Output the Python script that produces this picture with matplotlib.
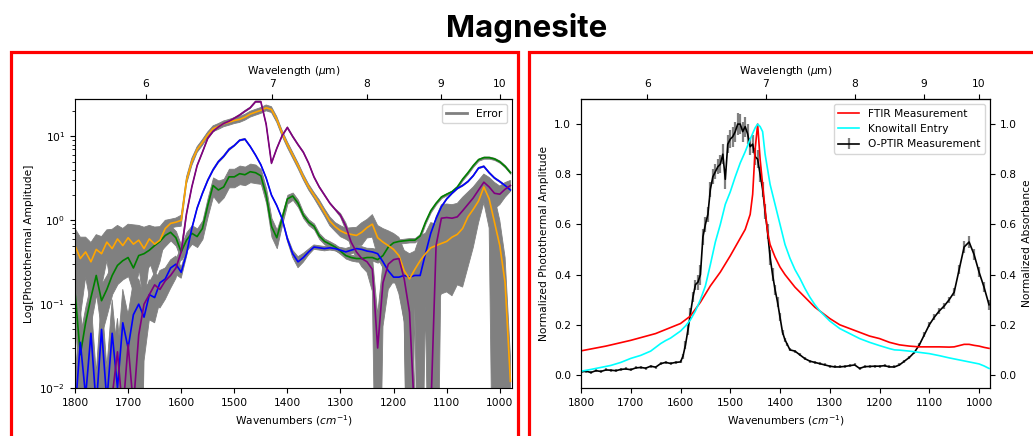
import numpy as np
import matplotlib
matplotlib.use('Agg')
import matplotlib.pyplot as plt
from matplotlib.patches import Rectangle
from matplotlib.lines import Line2D

plt.rcParams['font.family'] = ['DejaVu Sans']
plt.rcParams['font.size'] = 7.7

title = 'Magnesite'

# ---------------- left panel data (log amplitude) ----------------
wn_left = np.arange(1800, 975, -10)  # 1800 ... 980

orange_amp = [0.50, 0.35, 0.42, 0.32, 0.45, 0.40, 0.55, 0.46, 0.60, 0.50,
              0.62, 0.52, 0.58, 0.46, 0.60, 0.52, 0.58, 0.80, 0.92, 0.95,
              1.00, 3.00, 5.00, 7.00, 8.50, 10.5, 12.4, 13.2, 14.2, 14.8,
              15.5, 16.0, 17.0, 18.5, 19.5, 20.5, 22.0, 21.0, 16.0, 11.0,
              8.00, 6.00, 4.50, 3.30, 2.50, 2.00, 1.60, 1.25, 0.98, 0.84,
              0.75, 0.70, 0.68, 0.66, 0.72, 0.82, 0.90, 0.62, 0.55, 0.50,
              0.45, 0.38, 0.25, 0.20, 0.26, 0.33, 0.40, 0.47, 0.50, 0.53,
              0.56, 0.63, 0.68, 0.80, 1.10, 1.35, 1.70, 2.50, 1.80, 0.95,
              0.50, 0.18, 0.012]
orange_err = [0.6, 0.8, 0.5, 0.7, 0.5, 0.6, 0.4, 0.7, 0.45, 0.6,
              0.45, 0.7, 0.5, 0.8, 0.45, 0.6, 0.45, 0.25, 0.12, 0.12,
              0.15, 0.1, 0.1, 0.08, 0.08, 0.08, 0.08, 0.08, 0.08, 0.08,
              0.08, 0.08, 0.08, 0.08, 0.08, 0.08, 0.08, 0.08, 0.08, 0.08,
              0.08, 0.08, 0.08, 0.08, 0.08, 0.08, 0.1, 0.1, 0.12, 0.12,
              0.15, 0.15, 0.2, 0.25, 0.3, 0.25, 0.3, 0.4, 0.45, 0.5,
              0.55, 0.65, 0.75, 1.0, 0.65, 1.0, 0.75, 1.0, 0.8, 0.75,
              0.75, 0.8, 0.75, 0.8, 0.75, 0.65, 0.45, 0.35, 0.55, 1.0,
              1.0, 1.0, 1.0]

purple_amp = [0.004, 0.003, 0.005, 0.003, 0.004, 0.003, 0.006, 0.008, 0.027, 0.005,
              0.033, 0.006, 0.043, 0.10, 0.13, 0.17, 0.15, 0.19, 0.22, 0.27,
              0.42, 1.20, 2.50, 4.50, 6.50, 9.50, 11.5, 13.0, 14.3, 15.2,
              16.5, 18.0, 20.0, 22.0, 26.0, 26.0, 14.0, 4.80, 7.20, 10.2,
              12.8, 10.0, 8.00, 6.50, 4.80, 3.30, 2.50, 2.00, 1.60, 1.35,
              1.15, 0.85, 0.55, 0.42, 0.35, 0.32, 0.26, 0.03, 0.18, 0.30,
              0.34, 0.35, 0.20, 0.08, 0.004, 0.003, 0.003, 0.005, 0.50, 1.06,
              1.08, 1.06, 1.10, 1.30, 1.55, 1.85, 2.30, 2.85, 2.50, 2.10,
              2.05, 2.35, 2.60]
purple_err = [1.5, 1.5, 1.5, 1.5, 1.5, 1.5, 1.5, 1.5, 1.5, 1.5,
              1.5, 1.5, 1.5, 0.5, 0.4, 0.4, 0.4, 0.4, 0.3, 0.25,
              0.15, 0.04, 0.02, 0.02, 0.02, 0.02, 0.02, 0.02, 0.02, 0.02,
              0.02, 0.02, 0.02, 0.02, 0.02, 0.02, 0.02, 0.02, 0.02, 0.02,
              0.02, 0.02, 0.02, 0.02, 0.02, 0.02, 0.02, 0.02, 0.02, 0.02,
              0.05, 0.1, 0.15, 0.15, 0.2, 0.25, 0.45, 1.5, 0.7, 0.5,
              0.45, 0.5, 0.7, 1.5, 1.5, 1.5, 1.5, 1.5, 1.2, 0.45,
              0.45, 0.45, 0.45, 0.45, 0.4, 0.35, 0.3, 0.25, 0.3, 0.35,
              0.25, 0.2, 0.15]

blue_amp = [0.005, 0.035, 0.008, 0.045, 0.006, 0.05, 0.007, 0.045, 0.01, 0.06,
            0.03, 0.075, 0.10, 0.07, 0.13, 0.12, 0.18, 0.20, 0.27, 0.30,
            0.24, 0.40, 0.80, 1.40, 2.10, 3.00, 4.00, 5.00, 5.80, 7.00,
            7.80, 9.00, 9.30, 7.60, 6.00, 4.60, 3.20, 2.00, 1.50, 1.05,
            0.60, 0.40, 0.32, 0.36, 0.42, 0.48, 0.47, 0.46, 0.47, 0.46,
            0.44, 0.42, 0.44, 0.46, 0.45, 0.43, 0.42, 0.40, 0.32, 0.25,
            0.21, 0.21, 0.22, 0.21, 0.22, 0.22, 0.40, 0.70, 1.05, 1.45,
            1.80, 2.10, 2.40, 2.60, 2.90, 3.40, 4.20, 4.40, 3.70, 3.20,
            2.90, 2.60, 2.30]
blue_err = [1.5, 1.5, 1.5, 1.5, 1.5, 1.5, 1.5, 1.5, 1.5, 1.5,
            1.5, 1.5, 1.0, 0.7, 0.5, 0.5, 0.4, 0.35, 0.25, 0.25,
            0.15, 0.08, 0.03, 0.03, 0.03, 0.03, 0.03, 0.03, 0.03, 0.03,
            0.02, 0.02, 0.02, 0.02, 0.02, 0.02, 0.02, 0.02, 0.02, 0.02,
            0.06, 0.1, 0.15, 0.12, 0.08, 0.06, 0.06, 0.06, 0.06, 0.06,
            0.08, 0.1, 0.1, 0.08, 0.08, 0.08, 0.1, 0.12, 0.15, 0.15,
            0.15, 0.15, 0.15, 0.15, 0.15, 0.15, 0.08, 0.03, 0.02, 0.02,
            0.02, 0.02, 0.02, 0.02, 0.02, 0.02, 0.02, 0.02, 0.02, 0.02,
            0.02, 0.02, 0.02]

green_amp = [0.14, 0.025, 0.06, 0.12, 0.22, 0.11, 0.15, 0.22, 0.29, 0.33,
             0.36, 0.27, 0.38, 0.40, 0.44, 0.50, 0.56, 0.66, 0.72, 0.62,
             0.42, 0.58, 0.70, 0.64, 0.80, 1.50, 2.60, 2.30, 2.50, 3.30,
             3.30, 3.60, 3.50, 3.80, 3.70, 3.40, 2.00, 0.85, 0.62, 1.05,
             1.80, 1.95, 1.60, 1.15, 0.95, 0.85, 0.65, 0.56, 0.52, 0.48,
             0.43, 0.38, 0.36, 0.35, 0.35, 0.36, 0.36, 0.34, 0.38, 0.48,
             0.54, 0.56, 0.57, 0.58, 0.58, 0.65, 0.95, 1.30, 1.60, 1.90,
             2.05, 2.20, 2.50, 3.10, 3.70, 4.50, 5.30, 5.60, 5.60, 5.40,
             5.00, 4.40, 3.70]
green_err = [0.5, 0.8, 0.6, 0.5, 0.4, 0.6, 0.5, 0.4, 0.4, 0.4,
             0.4, 0.5, 0.35, 0.4, 0.35, 0.35, 0.25, 0.25, 0.2, 0.2,
             0.2, 0.25, 0.25, 0.25, 0.25, 0.25, 0.25, 0.3, 0.25, 0.25,
             0.25, 0.25, 0.25, 0.25, 0.25, 0.2, 0.2, 0.25, 0.25, 0.15,
             0.12, 0.1, 0.1, 0.08, 0.08, 0.08, 0.08, 0.08, 0.08, 0.08,
             0.08, 0.08, 0.08, 0.08, 0.08, 0.08, 0.08, 0.08, 0.08, 0.08,
             0.06, 0.06, 0.06, 0.06, 0.06, 0.06, 0.04, 0.04, 0.03, 0.03,
             0.03, 0.03, 0.03, 0.03, 0.03, 0.03, 0.03, 0.03, 0.03, 0.03,
             0.03, 0.03, 0.03]

# ---------------- right panel data (normalized) ----------------
ftir_wn = [1800, 1750, 1700, 1650, 1600, 1580, 1560, 1540, 1520, 1500, 1480, 1470,
           1460, 1455, 1450, 1445, 1440, 1435, 1430, 1425, 1420, 1410, 1400, 1390,
           1380, 1370, 1360, 1350, 1340, 1330, 1320, 1300, 1280, 1260, 1240, 1220,
           1200, 1180, 1160, 1140, 1120, 1100, 1080, 1060, 1050, 1040, 1030, 1020,
           1010, 1000, 990, 980]
ftir_abs = [0.096, 0.115, 0.138, 0.165, 0.205, 0.235, 0.29, 0.355, 0.41, 0.475, 0.545, 0.58,
            0.64, 0.72, 0.90, 1.00, 0.86, 0.76, 0.66, 0.57, 0.52, 0.47, 0.43, 0.40,
            0.375, 0.35, 0.33, 0.31, 0.29, 0.27, 0.255, 0.225, 0.20, 0.185, 0.17, 0.155,
            0.145, 0.13, 0.12, 0.115, 0.112, 0.112, 0.112, 0.111, 0.112, 0.117, 0.122, 0.122,
            0.118, 0.115, 0.11, 0.106]

kia_wn = [1800, 1780, 1760, 1740, 1720, 1700, 1680, 1660, 1640, 1630, 1620, 1600,
          1590, 1580, 1570, 1560, 1550, 1540, 1530, 1520, 1510, 1500, 1490, 1480,
          1470, 1460, 1450, 1445, 1440, 1435, 1430, 1425, 1420, 1410, 1400, 1390,
          1380, 1370, 1360, 1350, 1340, 1330, 1320, 1310, 1300, 1280, 1260, 1240,
          1220, 1200, 1180, 1170, 1160, 1140, 1120, 1100, 1080, 1060, 1040, 1020,
          1000, 990, 980]
kia_abs = [0.015, 0.022, 0.030, 0.038, 0.050, 0.066, 0.078, 0.095, 0.125, 0.137, 0.147, 0.175,
           0.195, 0.22, 0.255, 0.30, 0.355, 0.44, 0.53, 0.60, 0.68, 0.73, 0.79, 0.845,
           0.89, 0.94, 0.985, 1.00, 0.99, 0.97, 0.88, 0.82, 0.76, 0.68, 0.60, 0.52,
           0.465, 0.42, 0.385, 0.345, 0.31, 0.28, 0.255, 0.235, 0.215, 0.185, 0.165, 0.145,
           0.13, 0.117, 0.105, 0.100, 0.099, 0.095, 0.090, 0.085, 0.077, 0.068, 0.060, 0.052,
           0.044, 0.036, 0.026]

optir_wn = [1800, 1790, 1780, 1770, 1760, 1750, 1740, 1730, 1720, 1710, 1700, 1690,
            1680, 1670, 1660, 1650, 1640, 1630, 1620, 1610, 1600,
            1595, 1590, 1585, 1580, 1575, 1570, 1565, 1560, 1555, 1550, 1545, 1540,
            1535, 1530, 1525, 1520, 1515, 1510, 1505, 1500, 1495, 1490, 1485, 1480,
            1475, 1470, 1465, 1460, 1455, 1450, 1445, 1440, 1435, 1430, 1425, 1420,
            1415, 1410, 1405, 1400, 1395, 1390, 1385, 1380,
            1370, 1360, 1350, 1340, 1330, 1320, 1310, 1300, 1290, 1280, 1270, 1260,
            1250, 1240, 1230, 1220, 1210, 1200, 1190, 1180, 1170, 1160, 1150, 1140,
            1130, 1120, 1110, 1100, 1090, 1080, 1070, 1060, 1050, 1040, 1030, 1020,
            1010, 1000, 990, 980]
optir_amp = [0.012, 0.015, 0.010, 0.017, 0.014, 0.020, 0.019, 0.017, 0.022, 0.024, 0.021, 0.028,
             0.030, 0.027, 0.035, 0.031, 0.045, 0.050, 0.046, 0.050, 0.052,
             0.075, 0.12, 0.18, 0.245, 0.31, 0.36, 0.37, 0.40, 0.55, 0.60, 0.64, 0.74,
             0.79, 0.81, 0.83, 0.84, 0.88, 0.78, 0.92, 0.94, 0.95, 0.97, 1.00, 1.00,
             0.97, 0.99, 0.96, 0.91, 0.92, 0.87, 0.86, 0.80, 0.74, 0.65, 0.57, 0.47,
             0.40, 0.34, 0.29, 0.23, 0.17, 0.14, 0.12, 0.10,
             0.095, 0.08, 0.065, 0.055, 0.050, 0.045, 0.040, 0.035, 0.032, 0.032, 0.034, 0.037,
             0.040, 0.026, 0.033, 0.034, 0.035, 0.035, 0.037, 0.032, 0.032, 0.040, 0.055, 0.070,
             0.090, 0.12, 0.16, 0.20, 0.23, 0.255, 0.275, 0.30, 0.33, 0.42, 0.51, 0.53,
             0.48, 0.41, 0.35, 0.28]
optir_err = [0.006, 0.006, 0.006, 0.006, 0.006, 0.006, 0.006, 0.006, 0.006, 0.006, 0.006, 0.006,
             0.006, 0.006, 0.006, 0.006, 0.006, 0.006, 0.006, 0.006, 0.006,
             0.01, 0.015, 0.02, 0.02, 0.02, 0.02, 0.03, 0.04, 0.03, 0.03, 0.03, 0.03,
             0.03, 0.03, 0.03, 0.035, 0.04, 0.04, 0.035, 0.035, 0.04, 0.04, 0.045, 0.04,
             0.04, 0.04, 0.04, 0.035, 0.035, 0.035, 0.035, 0.03, 0.03, 0.03, 0.03, 0.03,
             0.025, 0.02, 0.02, 0.015, 0.01, 0.008, 0.006, 0.006,
             0.006, 0.006, 0.006, 0.006, 0.006, 0.006, 0.006, 0.006, 0.006, 0.006, 0.006, 0.006,
             0.006, 0.006, 0.006, 0.006, 0.006, 0.006, 0.006, 0.006, 0.006, 0.006, 0.006, 0.006,
             0.006, 0.008, 0.01, 0.01, 0.012, 0.012, 0.012, 0.012, 0.015, 0.018, 0.022, 0.025,
             0.022, 0.02, 0.02, 0.02]

wavelength_ticks = [6, 7, 8, 9, 10]

# ---------------- figure ----------------
W, H = 1033, 436
fig = plt.figure(figsize=(W / 100, H / 100), dpi=100)


def frac(x0, y0, x1, y1):
    return [x0 / W, 1 - y1 / H, (x1 - x0) / W, (y1 - y0) / H]


fig.text(526.5 / W, 1 - 37 / H, title, ha='center', va='baseline',
         fontsize=22.5, fontweight='bold', family=['Inter', 'DejaVu Sans'])

for (x0, x1) in [(10.5, 518), (529, 1040)]:
    fig.add_artist(Rectangle((x0 / W, 1 - 470 / H), (x1 - x0) / W, (470 - 51.5) / H,
                             transform=fig.transFigure, fill=False,
                             ec='red', lw=2.3))


def fwd(x):
    x = np.asarray(x, dtype=float)
    with np.errstate(divide='ignore', invalid='ignore'):
        return 1e4 / x


def add_top(ax):
    sec = ax.secondary_xaxis('top', functions=(fwd, fwd))
    sec.set_xticks(wavelength_ticks)
    sec.set_xticklabels([str(t) for t in wavelength_ticks])
    sec.set_xlabel(r'Wavelength ($\mu$m)')
    return sec


# left panel
axl = fig.add_axes(frac(75, 99, 512, 388))
x = np.asarray(wn_left, dtype=float)
for amp, rel in [(orange_amp, orange_err), (purple_amp, purple_err),
                 (blue_amp, blue_err), (green_amp, green_err)]:
    a = np.asarray(amp)
    e = np.asarray(rel) * a
    lo = np.maximum(a - e, 1e-5)
    hi = a + e
    axl.fill_between(x, lo, hi, color='grey', lw=0.6, edgecolor='grey')
for amp, col in [(green_amp, 'green'), (blue_amp, 'blue'),
                 (orange_amp, 'orange'), (purple_amp, 'purple')]:
    axl.plot(x, amp, color=col, lw=1.2)
axl.set_yscale('log')
axl.set_xlim(1800, 977)
axl.set_ylim(0.01, 28)
axl.set_xlabel(r'Wavenumbers ($cm^{-1}$)')
axl.set_ylabel('Log[Photothermal Amplitude]')
add_top(axl)
axl.legend([Line2D([], [], color='grey', lw=2)], ['Error'], loc='upper right')

# right panel
axr = fig.add_axes(frac(581, 99, 990, 388))
eb = axr.errorbar(optir_wn, optir_amp, yerr=optir_err, color='black', lw=1.2,
                  ecolor='grey', elinewidth=1.6, label='O-PTIR Measurement')
axr.set_xlim(1800, 978)
axr.set_ylim(-0.052, 1.1)
axr.set_xlabel(r'Wavenumbers ($cm^{-1}$)')
axr.set_ylabel('Normalized Photothermal Amplitude')
add_top(axr)
ax2 = axr.twinx()
l1, = ax2.plot(ftir_wn, ftir_abs, color='red', lw=1.2, label='FTIR Measurement')
l2, = ax2.plot(kia_wn, kia_abs, color='cyan', lw=1.2, label='Knowitall Entry')
ax2.set_ylim(-0.052, 1.1)
ax2.set_ylabel('Normalized Absorbance')
ax2.legend([l1, l2, eb], ['FTIR Measurement', 'Knowitall Entry', 'O-PTIR Measurement'],
           loc='upper right')

fig.savefig('out.png', dpi=100)
